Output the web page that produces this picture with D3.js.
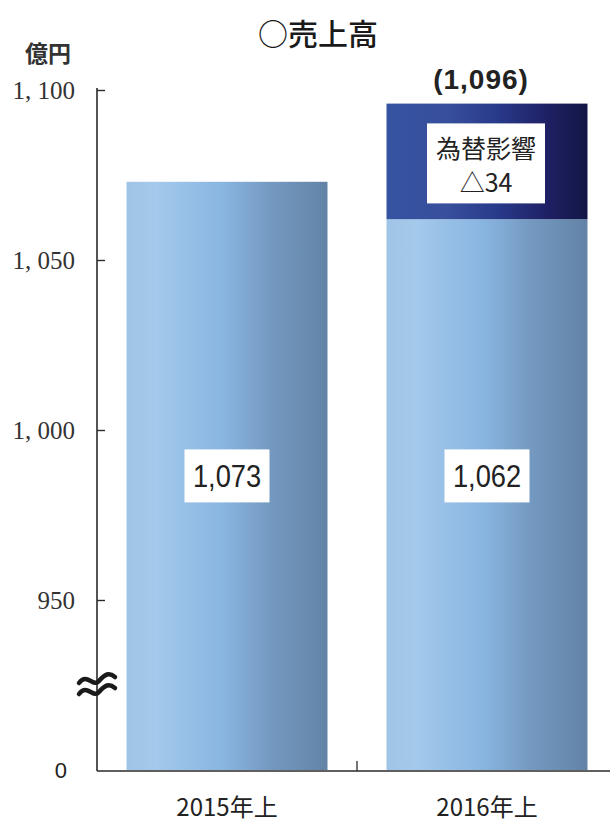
<!DOCTYPE html>
<html>
<head>
<meta charset="utf-8">
<script src="https://cdn.jsdelivr.net/npm/d3@7"></script>
<style>
  html, body { margin: 0; padding: 0; background: #fff; }
  svg { display: block; }
</style>
</head>
<body>
<svg id="chart" width="610" height="823"></svg>
<script>
// Half-year sales (億円)
const categories = ["2015年上", "2016年上"];
const baseValues = [1073, 1062];          // sales excluding FX effect
const fxValues = [0, 34];                 // FX effect stacked on top
const totalLabels = ["", "(1,096)"];
const fxLabelLines = ["為替影響", "△34"];
const tickValues = [950, 1000, 1050, 1100];
const tickLabels = ["950", "1, 000", "1, 050", "1, 100"];
const axisFloor = 900;                    // value drawn at the broken baseline
const floorLabel = "0";

(function draw() {
const svg = d3.select("#chart");
const W = 610;
const plotLeft = 97, plotBottom = 770, plotTop = 90;

const y = d3.scaleLinear().domain([axisFloor, 1100]).range([plotBottom, plotTop]);
const x = d3.scaleBand().domain(categories).range([plotLeft, 617]).padding(0);
const barW = x.bandwidth() * 0.773;

// Gradients
const defs = svg.append("defs");
const gLight = defs.append("linearGradient").attr("id", "gLight")
  .attr("x1", 0).attr("x2", 1).attr("y1", 0).attr("y2", 0);
[[0, "#a0c4e6"], [0.15, "#a3c9eb"], [0.48, "#89b5e1"], [0.72, "#7499c0"], [1, "#6283a6"]]
  .forEach(([o, c]) => gLight.append("stop").attr("offset", o).attr("stop-color", c));
const gDark = defs.append("linearGradient").attr("id", "gDark")
  .attr("x1", 0).attr("x2", 1).attr("y1", 0).attr("y2", 0);
[[0, "#3553a1"], [0.3, "#384f9c"], [0.55, "#283a8a"], [0.8, "#1f2064"], [1, "#121645"]]
  .forEach(([o, c]) => gDark.append("stop").attr("offset", o).attr("stop-color", c));

const barX = c => x(c) + (x.bandwidth() - barW) / 2;
const barCx = c => x(c) + x.bandwidth() / 2;

// Base bars
svg.append("g").selectAll("rect").data(categories).join("rect")
  .attr("x", barX)
  .attr("width", barW)
  .attr("y", (c, i) => y(baseValues[i]))
  .attr("height", (c, i) => y(axisFloor) - y(baseValues[i]))
  .attr("fill", "url(#gLight)");

// FX effect segments
svg.append("g").selectAll("rect").data(categories.filter((c, i) => fxValues[i] > 0)).join("rect")
  .attr("x", barX)
  .attr("width", barW)
  .attr("y", c => { const i = categories.indexOf(c); return y(baseValues[i] + fxValues[i]); })
  .attr("height", c => { const i = categories.indexOf(c); return y(baseValues[i]) - y(baseValues[i] + fxValues[i]); })
  .attr("fill", "url(#gDark)");

// Y axis
const yAxis = d3.axisLeft(y)
  .tickValues(tickValues)
  .tickFormat((d, i) => tickLabels[i])
  .tickSizeInner(-8)
  .tickSizeOuter(0)
  .tickPadding(22);
const gy = svg.append("g").attr("transform", `translate(${plotLeft},0)`).call(yAxis);
gy.select(".domain").attr("stroke", "#2a2a2a").attr("stroke-width", 1.6)
  .attr("d", `M0,${plotTop - 2}V${plotBottom + 1}`);
gy.selectAll(".tick line").attr("stroke", "#2a2a2a").attr("stroke-width", 1.4);
gy.selectAll(".tick text")
  .attr("font-family", "'Liberation Serif', 'DejaVu Serif', serif")
  .attr("font-size", 25)
  .attr("fill", "#333");

// Baseline label
svg.append("text")
  .attr("x", 67).attr("y", y(axisFloor) + 8)
  .attr("text-anchor", "end")
  .attr("font-family", "'Liberation Sans', Arial, sans-serif")
  .attr("font-size", 22).attr("fill", "#222")
  .text(floorLabel);

// X axis
const xAxis = d3.axisBottom(x).tickSize(0).tickFormat("");
const gx = svg.append("g").attr("transform", `translate(0,${plotBottom + 1})`).call(xAxis);
gx.select(".domain").attr("stroke", "#2a2a2a").attr("stroke-width", 1.6)
  .attr("d", `M${plotLeft},0H${W}`);
// separator tick between categories
svg.append("line")
  .attr("x1", x(categories[1])).attr("x2", x(categories[1]))
  .attr("y1", plotBottom - 9).attr("y2", plotBottom + 1)
  .attr("stroke", "#2a2a2a").attr("stroke-width", 1.3);

svg.append("g").selectAll("text").data(categories).join("text")
  .attr("x", barCx)
  .attr("y", 816)
  .attr("text-anchor", "middle")
  .attr("font-family", "'Noto Sans CJK JP', sans-serif")
  .attr("font-size", 24)
  .attr("fill", "#222")
  .text(d => d);

// Axis break mark
const bY = y(925);
const wave = (dy) => `M${plotLeft - 18},${bY + dy + 3} C${plotLeft - 10},${bY + dy - 8} ${plotLeft - 4},${bY + dy + 8} ${plotLeft + 2},${bY + dy + 1} S${plotLeft + 12},${bY + dy - 8} ${plotLeft + 18},${bY + dy - 3}`;
svg.append("path").attr("d", wave(-5)).attr("fill", "none").attr("stroke", "#1a1a1a").attr("stroke-width", 4.5).attr("stroke-linecap", "round");
svg.append("path").attr("d", wave(6)).attr("fill", "none").attr("stroke", "#1a1a1a").attr("stroke-width", 4.5).attr("stroke-linecap", "round");

// Value labels inside base bars
const labelY = (y(d3.max(baseValues)) + y(axisFloor)) / 2;
const vl = svg.append("g").selectAll("g").data(categories).join("g")
  .attr("transform", c => `translate(${barCx(c)},${labelY})`);
vl.append("rect").attr("x", -42.5).attr("y", -26.5).attr("width", 85).attr("height", 53).attr("fill", "#fff");
vl.append("text")
  .attr("transform", "scale(0.88,1)")
  .attr("y", 11)
  .attr("text-anchor", "middle")
  .attr("font-family", "'Liberation Sans', Arial, sans-serif")
  .attr("font-size", 31)
  .attr("fill", "#222")
  .text((c, i) => d3.format(",")(baseValues[i]));

// FX segment label
categories.forEach((c, i) => {
  if (!fxValues[i]) return;
  const cy = (y(baseValues[i]) + y(baseValues[i] + fxValues[i])) / 2 + 2;
  const g = svg.append("g").attr("transform", `translate(${barCx(c) - 1},${cy})`);
  g.append("rect").attr("x", -59).attr("y", -40).attr("width", 118).attr("height", 80).attr("fill", "#fff");
  g.append("text").attr("y", -5).attr("text-anchor", "middle")
    .attr("font-family", "'Noto Sans CJK JP', sans-serif").attr("font-size", 25).attr("fill", "#222")
    .text(fxLabelLines[0]);
  g.append("text").attr("y", 29).attr("text-anchor", "middle")
    .attr("font-family", "'Noto Sans CJK JP', sans-serif").attr("font-size", 25).attr("fill", "#222")
    .text(fxLabelLines[1]);
  // total above the stacked bar
  svg.append("text")
    .attr("x", barCx(c) - 6)
    .attr("y", y(baseValues[i] + fxValues[i]) - 15)
    .attr("text-anchor", "middle")
    .attr("font-family", "'Liberation Sans', Arial, sans-serif")
    .attr("font-weight", "bold")
    .attr("font-size", 28)
    .attr("letter-spacing", 1)
    .attr("fill", "#222")
    .text(totalLabels[i]);
});

// Title and unit
svg.append("text")
  .attr("x", 318).attr("y", 45)
  .attr("text-anchor", "middle")
  .attr("font-family", "'Noto Sans CJK JP', sans-serif")
  .attr("font-weight", 500)
  .attr("font-size", 30)
  .attr("fill", "#1a1a1a")
  .text("○売上高");

svg.append("text")
  .attr("x", 48).attr("y", 62)
  .attr("text-anchor", "middle")
  .attr("font-family", "'Noto Sans CJK JP', sans-serif")
  .attr("font-weight", 700)
  .attr("font-size", 23)
  .attr("fill", "#333")
  .text("億円");
})();
</script>
</body>
</html>
